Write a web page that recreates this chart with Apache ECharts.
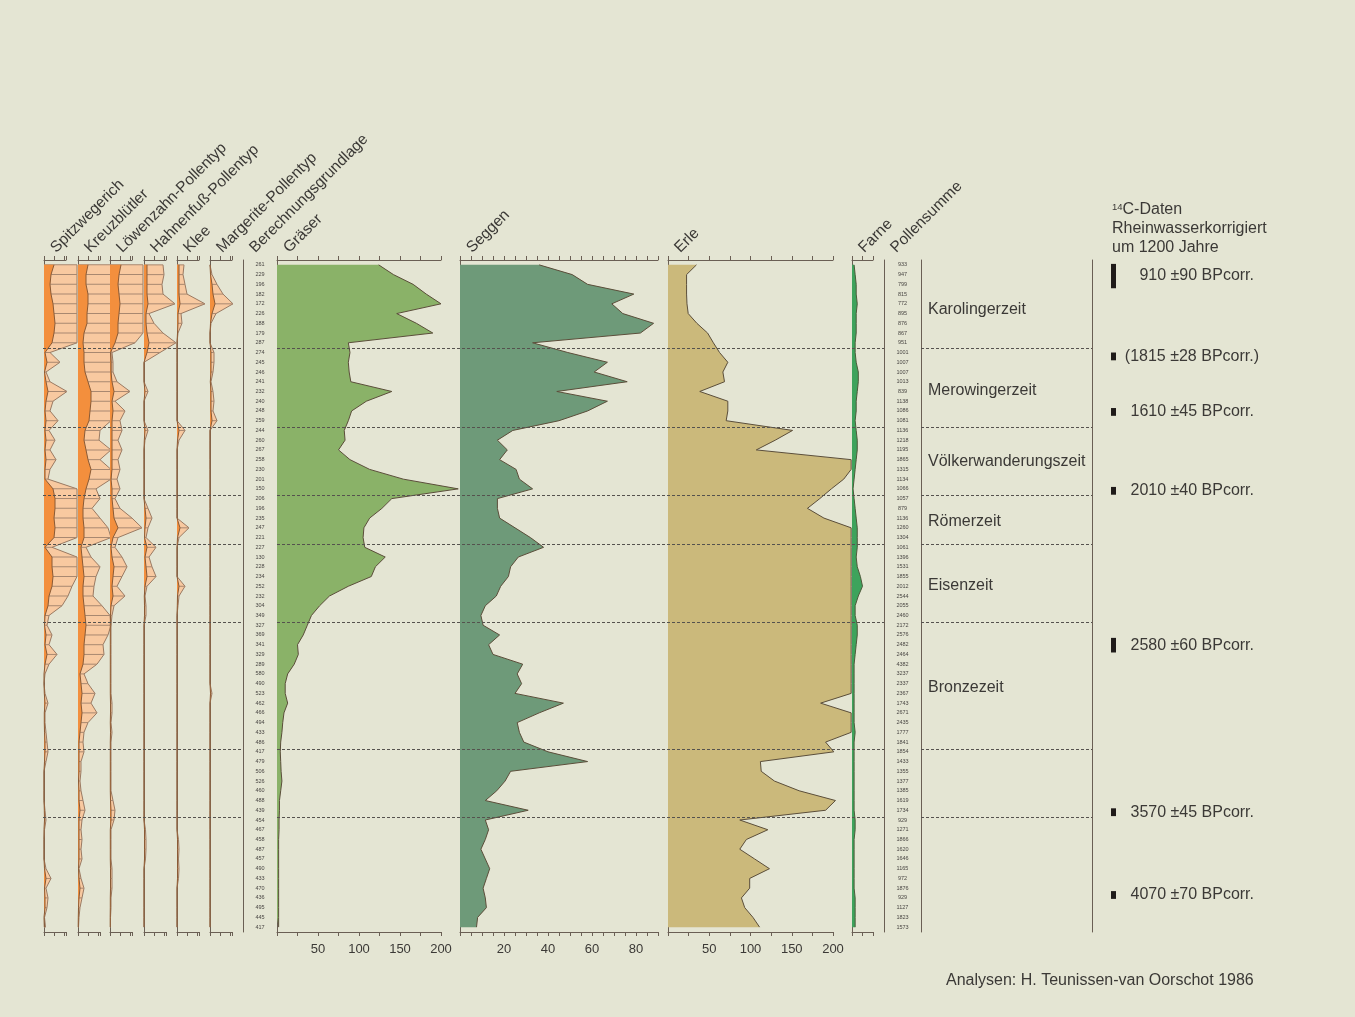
<!DOCTYPE html>
<html>
<head>
<meta charset="utf-8">
<script src="https://cdn.jsdelivr.net/npm/echarts@6/dist/echarts.min.js"></script>
<style>
  html, body { margin: 0; background: #e4e5d3; }
  #chart { width: 1355px; height: 1017px; }
</style>
</head>
<body>
<div id="chart"></div>
<script>
// rows top -> bottom, grouped by zone: 0-8 | 9-16 | 17-23 | 24-28 | 29-36 | 37-49 | 50-56 | 57-68
const berechnung = [261,229,196,182,172,226,188,179,287, 274,245,246,241,232,240,248,259, 244,260,267,258,230,201,150,
  206,196,235,247,221, 227,130,228,234,252,232,304,349, 327,369,341,329,289,580,490,523,462,466,494,433,486,
  417,479,506,526,460,488,439, 454,467,458,487,457,490,433,470,436,495,445,417];
const pollensumme = [933,947,799,815,772,895,876,867,951, 1001,1007,1007,1013,839,1138,1086,1081, 1136,1218,1195,1865,1315,1134,1066,
  1057,879,1136,1260,1304, 1061,1396,1531,1855,2012,2544,2055,2460, 2172,2576,2482,2464,4382,3237,2337,2367,1743,2671,2435,1777,1841,
  1854,1433,1355,1377,1385,1619,1734, 929,1271,1866,1620,1646,1165,972,1876,929,1127,1823,1573];

const spitzDark = [10,7,6,7,9,10,11,10,8, 1,3,0.5,2,4,2,1,2, 1,2,1,2,1,1,9, 11,11,10,11,10, 1,8,8,9,8,5,4,1,
  0.5,2,1,3,1,0,0,0.3,1,0.3,0.3,0.5,1, 1,0.5,0,0,0,0,0.3, 0.5,0,0,0,0,0.5,2,0.5,1,1,0,0.3];
const spitzEx = [33,33,33,33,33,33,33,33,33, 6,16,2,6,23,9,6,14, 5,11,6,12,6,4,33, 33,33,33,33,33, 8,33,33,33,28,24,18,5,
  3,8,5,13,5,1,0,1,4,1,1,2,3, 4,2,0,0,0,0,1, 2,0.5,0,0,0,2,7,2,4,3,0.5,1.5];
const kreuzDark = [10,8,8,10,10,9,9,6,5, 6,6,7,10,13,13,12,11, 7,6,8,10,13,11,8, 6,5,5,6,6, 3,4,5,6,5,5,6,7,
  8,7,6,6,5,2,3,4,3,4,3,2,1, 1,1,1,0.5,1,1,2, 1,1,1,1,1,0.5,1,2,1,0.5,0.3,0.2];
const kreuzEx = [33,33,33,33,33,33,33,33,33, 33,33,33,33,33,33,33,33, 22,21,33,22,33,33,18, 22,14,22,30,33, 8,13,22,18,16,15,24,32,
  33,30,25,26,19,6,10,17,13,19,10,6,5, 6,3,3,2,3,5,7, 4,3,4,3,4,1,3,6,4,2,1,0.5];
const loewDark = [11,9,8,9,10,9,8,8,5, 0.5,1,1,2,4,2,3,2, 2,2,2,2,2,1,2, 2,3,4,8,3, 1,2,4,3,2,3,1,0.5,
  0.3,0.3,0.3,0.3,0.3,0.3,0.3,0.3,0.5,0.5,0.3,0.5,0.3, 0.3,0.3,0.3,0.3,0.3,0.5,1, 1,0.3,0.3,0.3,0.3,0.5,0.5,0.5,0.3,0.3,0.2,0.2];
const loewEx = [33,33,33,33,33,33,33,33,25, 2,3,3,7,20,5,15,10, 12,8,12,8,10,7,10, 5,10,22,32,8, 5,12,17,12,7,15,4,2,
  1,1,1,1,1,1,1,1,2,2,1,2,1, 1,1,1,1,1,3,5, 4,1,1,1,1,2,2,2,1,1,0.5,0.5];
const hahnDark = [3,3,3,3,4,2,2,3,5, 3,0,0,0,1,0,0,0, 1,0.3,0,0,0,0,0, 0,1,2,1,0.5, 3,1,2,3,1,0.3,0.5,0.5,
  0,0,0,0,0,0,0,0,0,0,0,0,0, 0,0,0,0,0,0,0, 0,0.5,0.5,0.5,0.5,0,0,0,0,0,0,0];
const hahnEx = [19,20,18,19,31,5,10,19,32, 16,0,0,0,4,0,0,0, 4,1,0,0,0,0,0, 0,4,8,4,2, 12,5,8,12,3,1,2,2,
  0,0,0,0,0,0,0,0,0,0,0,0,0, 0,0,0,0,0,0,0, 0,1.5,2,2,1.5,0,0,0,0,0,0,0];
const kleeDark = [2,2,2,2,3,1,1,0.5,0, 0,0,0,0,0,0,0,0, 2,0.5,0,0,0,0,0, 0,0,0,3,0.5, 0,0,0,0,2,0.5,0.3,0,
  0,0,0,0,0,0,0,0,0,0,0,0,0, 0,0,0,0,0,0,0, 0,0,0.5,0.5,0.5,0.5,0.5,0,0,0,0,0];
const kleeEx = [7,6,8,10,28,4,5,1,0, 0,0,0,0,0,0,0,0, 8,2,0,0,0,0,0, 0,0,0,12,2, 0,0,0,0,8,2,1,0,
  0,0,0,0,0,0,0,0,0,0,0,0,0, 0,0,0,0,0,0,0, 0,0,1.5,2,1.5,2,1.5,0,0,0,0,0];
const margDark = [0,0.5,2,3,5,2,0.5,0,0, 1,1,1,0.3,1,1,1,2, 0,0,0,0,0,0,0, 0,0,0,0,0, 0,0,0,0,0,0,0,0,
  0,0,0,0,0,0,0,0.5,0,0,0,0,0, 0,0,0,0,0,0,0, 0,0,0,0,0,0,0,0,0,0,0,0];
const margEx = [0,2,7,13,23,6,1,0,0, 4,4,3,1,3,4,3,7, 0,0,0,0,0,0,0, 0,0,0,0,0, 0,0,0,0,0,0,0,0,
  0,0,0,0,0,0,0,2,0,0,0,0,0, 0,0,0,0,0,0,0, 0,0,0,0,0,0,0,0,0,0,0,0];

const graeser = [124,142,166,182,200,146,170,190,87, 89,87,88,90,140,109,91,87, 82,83,75,89,113,154,221,
  140,128,113,106,105, 107,132,120,115,87,64,52,42, 37,32,25,26,21,13,10,10,13,8.5,7,6,4.5,
  4,4.5,5,6,4.5,3,3, 2.5,2.5,2,2,2,2,2,2,2,2,2,2];
const seggen = [36,51,58,79,69,74,88,82,33, 49,67,61,76,44,67,58,45, 24,17,21.5,18,25.5,27,33,
  17,17,18,25,32, 38,26.5,23,22,18.5,16.5,11.5,9.5, 10.5,18,13,15,28.5,26,28,25,47,36,26,27,29,
  40,58,23,20.5,16.7,11.5,31, 11.5,13,11.5,9.5,11.5,13.5,12,10.5,11.5,12,8,7.5];
const erle = [34.5,22.5,22.5,22.5,23,24.5,35,48,55, 62.5,72.5,66.5,68.5,38.5,72.5,72.5,70.5, 151,130,107,222,222,213,198,
  184,169,189,222,222, 222,222,222,222,222,222,222,222, 222,222,222,222,222,222,222,222,185,222,222,222,191,
  201,112,113,129,159,203,191, 87,121,95,87,105,123,99,99,89,93,103,111];
const farne = [2,3,4,4,5,4,4,4,3, 3,4,6,6,5,4,4,3, 4,5,5,4,3,2,1, 2,3,4,5,5, 5,4,5,8,10,6,3,3,
  5,5,4,3,2,2,2,2,2,2,2,3,2, 2,2,2,2,2,2,2, 3,3,2,2,2,2,2,2,3,3,3,3];

const zoneBounds = [8.6, 16.7, 23.7, 28.7, 36.7, 49.7, 56.7];
const zoneNames = ['Karolingerzeit', 'Merowingerzeit', 'Völkerwanderungszeit', 'Römerzeit', 'Eisenzeit', 'Bronzezeit'];
const zoneLabelRow = [4.6, 12.9, 20.2, 26.4, 32.9, 43.4];

const dateLabels = ['910 ±90 BPcorr.', '(1815 ±28 BPcorr.)', '1610 ±45 BPcorr.', '2010 ±40 BPcorr.',
  '2580 ±60 BPcorr.', '3570 ±45 BPcorr.', '4070 ±70 BPcorr.'];
const dateFrom = [-0.1, 9.0, 14.7, 22.8, 38.3, 55.8, 64.3];
const dateTo = [2.4, 9.8, 15.5, 23.6, 39.8, 56.6, 65.1];

const headers = [
  ['Spitzwegerich', 44], ['Kreuzblütler', 78], ['Löwenzahn-Pollentyp', 110], ['Hahnenfuß-Pollentyp', 144],
  ['Klee', 177], ['Margerite-Pollentyp', 210], ['Berechnungsgrundlage', 243], ['Gräser', 277],
  ['Seggen', 460], ['Erle', 668], ['Farne', 852], ['Pollensumme', 884],
];

const FONT = '"Liberation Sans", Arial, sans-serif';
const TEXT = '#3b3936';
const AXIS = '#6a5f54';
const TOP = 260, H = 672;
const rowCats = berechnung.map((_, i) => i);

const grid = [], xAxis = [], yAxis = [], series = [];

function addGrid(left, width) {
  grid.push({ left, top: TOP, width, height: H, outerBoundsMode: 'none' });
  return grid.length - 1;
}

function valueAxes(gi, max, interval, labelStep) {
  const base = {
    gridIndex: gi, type: 'value', min: 0, max, interval,
    splitLine: { show: false },
    axisLine: { show: true, onZero: false, lineStyle: { color: AXIS, width: 1 } },
    axisTick: { show: true, length: 4, lineStyle: { color: AXIS } },
  };
  xAxis.push({ ...base, position: 'top', axisLabel: { show: false } });
  xAxis.push({
    ...base, position: 'bottom',
    axisLabel: labelStep ? {
      show: true, margin: 11, color: TEXT, fontSize: 13, fontFamily: FONT,
      formatter: v => (v > 0 && v % labelStep === 0) ? String(v) : '',
    } : { show: false },
  });
  return xAxis.length - 2;
}

function catAxis(gi, extra) {
  yAxis.push({
    gridIndex: gi, type: 'category', data: rowCats, inverse: true, boundaryGap: true,
    axisLine: { show: true, onZero: false, lineStyle: { color: AXIS } },
    axisTick: { show: false }, axisLabel: { show: false }, splitLine: { show: false },
    ...extra,
  });
  return yAxis.length - 1;
}

function area(xi, yi, data, fill, stroke, z) {
  series.push({
    type: 'line', xAxisIndex: xi, yAxisIndex: yi, data, symbol: 'none', clip: false, silent: true, z,
    lineStyle: { color: stroke, width: 1 }, areaStyle: { color: fill, opacity: 1 },
  });
}

// six small herb panels
const smallPanels = [
  [44, spitzDark, spitzEx], [78, kreuzDark, kreuzEx], [110, loewDark, loewEx],
  [144, hahnDark, hahnEx], [177, kleeDark, kleeEx], [210, margDark, margEx],
];
smallPanels.forEach(([left, dark, ex]) => {
  const gi = addGrid(left, 22);
  const xi = valueAxes(gi, 22, 10, 0);
  const yi = catAxis(gi);
  area(xi, yi, ex, '#f8c9a0', '#9a7a62', 2);
  series.push({
    type: 'bar', xAxisIndex: xi, yAxisIndex: yi, data: ex, barWidth: 1, clip: false, silent: true, z: 3,
    itemStyle: { color: '#a88870' },
  });
  area(xi, yi, dark, '#f38f3d', '#8a5a35', 4);
});

// number columns
function numberColumn(left, width, values) {
  const gi = addGrid(left, width);
  xAxis.push({ gridIndex: gi, type: 'value', min: 0, max: 1, show: false });
  catAxis(gi, {
    axisLabel: {
      show: true, inside: true, interval: 0, margin: width / 2, align: 'center',
      fontSize: 5.5, color: '#4a4744', fontFamily: FONT,
      formatter: (v, i) => String(values[i]),
    },
  });
}
numberColumn(243, 34, berechnung);

// big panels
const bigPanels = [
  [277, 164, 200, 25, 50, graeser, '#8ab268'],
  [460, 198, 90, 5, 20, seggen, '#6e9a79'],
  [668, 165, 200, 25, 50, erle, '#cbb97b'],
];
bigPanels.forEach(([left, width, max, interval, step, data, fill]) => {
  const gi = addGrid(left, width);
  const xi = valueAxes(gi, max, interval, step);
  const yi = catAxis(gi);
  area(xi, yi, data, fill, '#5b4e3a', 2);
});

{
  const gi = addGrid(852, 21);
  const xi = valueAxes(gi, 20, 10, 0);
  const yi = catAxis(gi);
  area(xi, yi, farne, '#3ea35c', '#4d5a3a', 2);
}

numberColumn(884, 37, pollensumme);

// zone column
{
  const gi = addGrid(921, 171);
  xAxis.push({ gridIndex: gi, type: 'value', min: 0, max: 1, show: false });
  const yBase = {
    gridIndex: gi, type: 'value', min: -0.5, max: 68.5, inverse: true,
    axisLine: { show: true, onZero: false, lineStyle: { color: AXIS } },
    axisTick: { show: false }, axisLabel: { show: false }, splitLine: { show: false },
  };
  yAxis.push({ ...yBase, position: 'left' });
  yAxis.push({ ...yBase, position: 'right' });
  series.push({
    type: 'custom', xAxisIndex: xAxis.length - 1, yAxisIndex: yAxis.length - 2, silent: true,
    data: zoneLabelRow.map(r => [0, r]),
    renderItem: (params, api) => {
      const p = api.coord([0, api.value(1)]);
      return {
        type: 'text', x: p[0] + 7, y: p[1],
        style: {
          text: zoneNames[params.dataIndex], fill: TEXT, fontSize: 16, fontFamily: FONT,
          textAlign: 'left', textVerticalAlign: 'middle', align: 'left', verticalAlign: 'middle',
        },
      };
    },
  });
}

// 14C dates
{
  const gi = addGrid(1105, 150);
  xAxis.push({ gridIndex: gi, type: 'value', min: 0, max: 1, show: false });
  yAxis.push({ gridIndex: gi, type: 'value', min: -0.5, max: 68.5, inverse: true, show: false });
  series.push({
    type: 'custom', xAxisIndex: xAxis.length - 1, yAxisIndex: yAxis.length - 1, silent: true,
    data: dateFrom.map((f, i) => [f, dateTo[i]]),
    renderItem: (params, api) => {
      const a = api.coord([0, api.value(0)]);
      const b = api.coord([0, api.value(1)]);
      const cs = params.coordSys;
      const label = dateLabels[params.dataIndex];
      // closing bracket hangs past the right edge
      const right = cs.x + cs.width - 1 + (label.endsWith(')') ? 5 : 0);
      return {
        type: 'group',
        children: [
          { type: 'rect', shape: { x: cs.x + 6, y: a[1], width: 5, height: b[1] - a[1] }, style: { fill: '#1f1b19' } },
          {
            type: 'text', x: right, y: (a[1] + b[1]) / 2,
            style: {
              text: label, fill: TEXT, fontSize: 16, fontFamily: FONT,
              textAlign: 'right', textVerticalAlign: 'middle', align: 'right', verticalAlign: 'middle',
            },
          },
        ],
      };
    },
  });
}

// dashed zone boundaries over everything
{
  const gi = addGrid(43, 1049);
  xAxis.push({ gridIndex: gi, type: 'value', min: 43, max: 1092, show: false });
  yAxis.push({ gridIndex: gi, type: 'value', min: -0.5, max: 68.5, inverse: true, show: false });
  const segs = [[43, 243], [277, 884], [921, 1092]];
  series.push({
    type: 'line', xAxisIndex: xAxis.length - 1, yAxisIndex: yAxis.length - 1,
    data: [[43, -0.5]], symbol: 'none', silent: true, z: 10, lineStyle: { opacity: 0 },
    markLine: {
      silent: true, symbol: ['none', 'none'], label: { show: false },
      lineStyle: { color: '#55524e', width: 1, type: [3, 2] },
      emphasis: { disabled: true },
      data: zoneBounds.flatMap(b => segs.map(([a, c]) => [{ coord: [a, b] }, { coord: [c, b] }])),
    },
  });
}

const graphic = headers.map(([t, x]) => ({
  type: 'text', x: x + 15, y: 256, rotation: Math.PI / 4, silent: true,
  style: {
    text: t, fill: TEXT, fontSize: 15.5, fontFamily: FONT,
    textAlign: 'left', textVerticalAlign: 'bottom', align: 'left', verticalAlign: 'bottom',
  },
}));
graphic.push(
  {
    type: 'text', x: 1112, y: 210, silent: true,
    style: {
      text: '{s|14}{n|C-Daten}', textVerticalAlign: 'middle', verticalAlign: 'middle',
      rich: {
        s: { fontSize: 9.5, fontFamily: FONT, fill: TEXT, verticalAlign: 'top' },
        n: { fontSize: 16, fontFamily: FONT, fill: TEXT },
      },
    },
  },
  { type: 'text', x: 1112, y: 229, silent: true, style: { text: 'Rheinwasserkorrigiert', fill: TEXT, fontSize: 16, fontFamily: FONT, textVerticalAlign: 'middle', verticalAlign: 'middle' } },
  { type: 'text', x: 1112, y: 248, silent: true, style: { text: 'um 1200 Jahre', fill: TEXT, fontSize: 16, fontFamily: FONT, textVerticalAlign: 'middle', verticalAlign: 'middle' } },
  { type: 'text', x: 946, y: 981, silent: true, style: { text: 'Analysen: H. Teunissen-van Oorschot 1986', fill: TEXT, fontSize: 16, fontFamily: FONT, textVerticalAlign: 'middle', verticalAlign: 'middle' } },
);

const chart = echarts.init(document.getElementById('chart'), null, { renderer: 'canvas' });
chart.setOption({
  backgroundColor: '#e4e5d3',
  animation: false,
  grid, xAxis, yAxis, series, graphic,
});
</script>
</body>
</html>
